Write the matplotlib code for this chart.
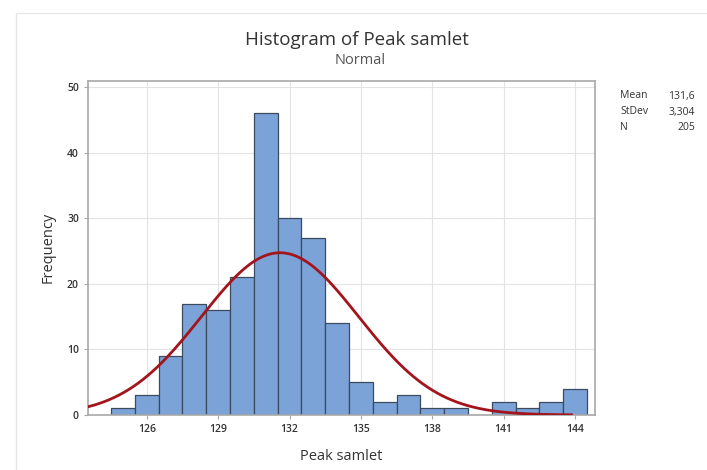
import numpy as np
import matplotlib
matplotlib.use("Agg")
import matplotlib.pyplot as plt
from matplotlib.patches import Rectangle

# histogram data (bin centres, width 1)
bin_centers = [125, 126, 127, 128, 129, 130, 131, 132, 133, 134,
               135, 136, 137, 138, 139, 140, 141, 142, 143, 144]
counts = [1, 3, 9, 17, 16, 21, 46, 30, 27, 14,
          5, 2, 3, 1, 1, 0, 2, 1, 2, 4]
x_ticks = [126, 129, 132, 135, 138, 141, 144]
y_ticks = [0, 10, 20, 30, 40, 50]
mean_val = 131.6
sd_val = 3.304
n_val = 205

plt.rcParams['font.family'] = ['Open Sans', 'DejaVu Sans']

fig = plt.figure(figsize=(7.07, 4.70), dpi=100)
ax = fig.add_axes([88/707, 55/470, (595-88)/707, (415-80.7)/470])

# faint outer border of the graph window
fig.patches.append(Rectangle((16/707, -0.1), 1.2, 1 - 13/470 + 0.1,
                             transform=fig.transFigure, fill=False,
                             edgecolor='#e6e6e6', linewidth=1.0))

ax.bar(bin_centers, counts, width=1.0, color='#7ba3d8',
       edgecolor='#3b4a5f', linewidth=0.9, zorder=2)

xs = np.linspace(123.53, 143.85, 300)
ys = n_val * 1.0 / (sd_val * np.sqrt(2*np.pi)) * np.exp(-0.5*((xs-mean_val)/sd_val)**2)
ax.plot(xs, ys, color='#a3141c', linewidth=2.0, zorder=3)

ax.set_xlim(123.53, 144.84)
ax.set_ylim(0, 51)
ax.set_xticks(x_ticks)
ax.set_yticks(y_ticks)
ax.grid(True, color='#e3e3e3', linewidth=0.8, zorder=0)
ax.set_axisbelow(True)
for s in ax.spines.values():
    s.set_color('#a8a8a8')
    s.set_linewidth(1.2)
ax.tick_params(axis='both', labelsize=7.5, colors='#a8a8a8', length=3,
               labelcolor='#333333', width=0.8)
for lab in ax.get_xticklabels() + ax.get_yticklabels():
    lab.set_fontweight('semibold')

ax.set_xlabel('Peak samlet', fontsize=10.5, color='#333333', labelpad=10)
ax.set_ylabel('Frequency', fontsize=10.5, color='#333333', labelpad=8)

fig.text(357/707, 1 - 40/470, 'Histogram of Peak samlet', ha='center', va='center',
         fontsize=13.5, color='#333333')
fig.text(360/707, 1 - 60/470, 'Normal', ha='center', va='center',
         fontsize=10.5, color='#555555')

# stats box
stats = [('Mean', '131,6'), ('StDev', '3,304'), ('N', str(n_val))]
for i, (k, v) in enumerate(stats):
    yy = 1 - (96 + i*16)/470
    fig.text(620/707, yy, k, ha='left', va='center', fontsize=7.5, color='#333333')
    fig.text(695/707, yy, v, ha='right', va='center', fontsize=7.5, color='#333333')

fig.savefig('out.png', dpi=100)
